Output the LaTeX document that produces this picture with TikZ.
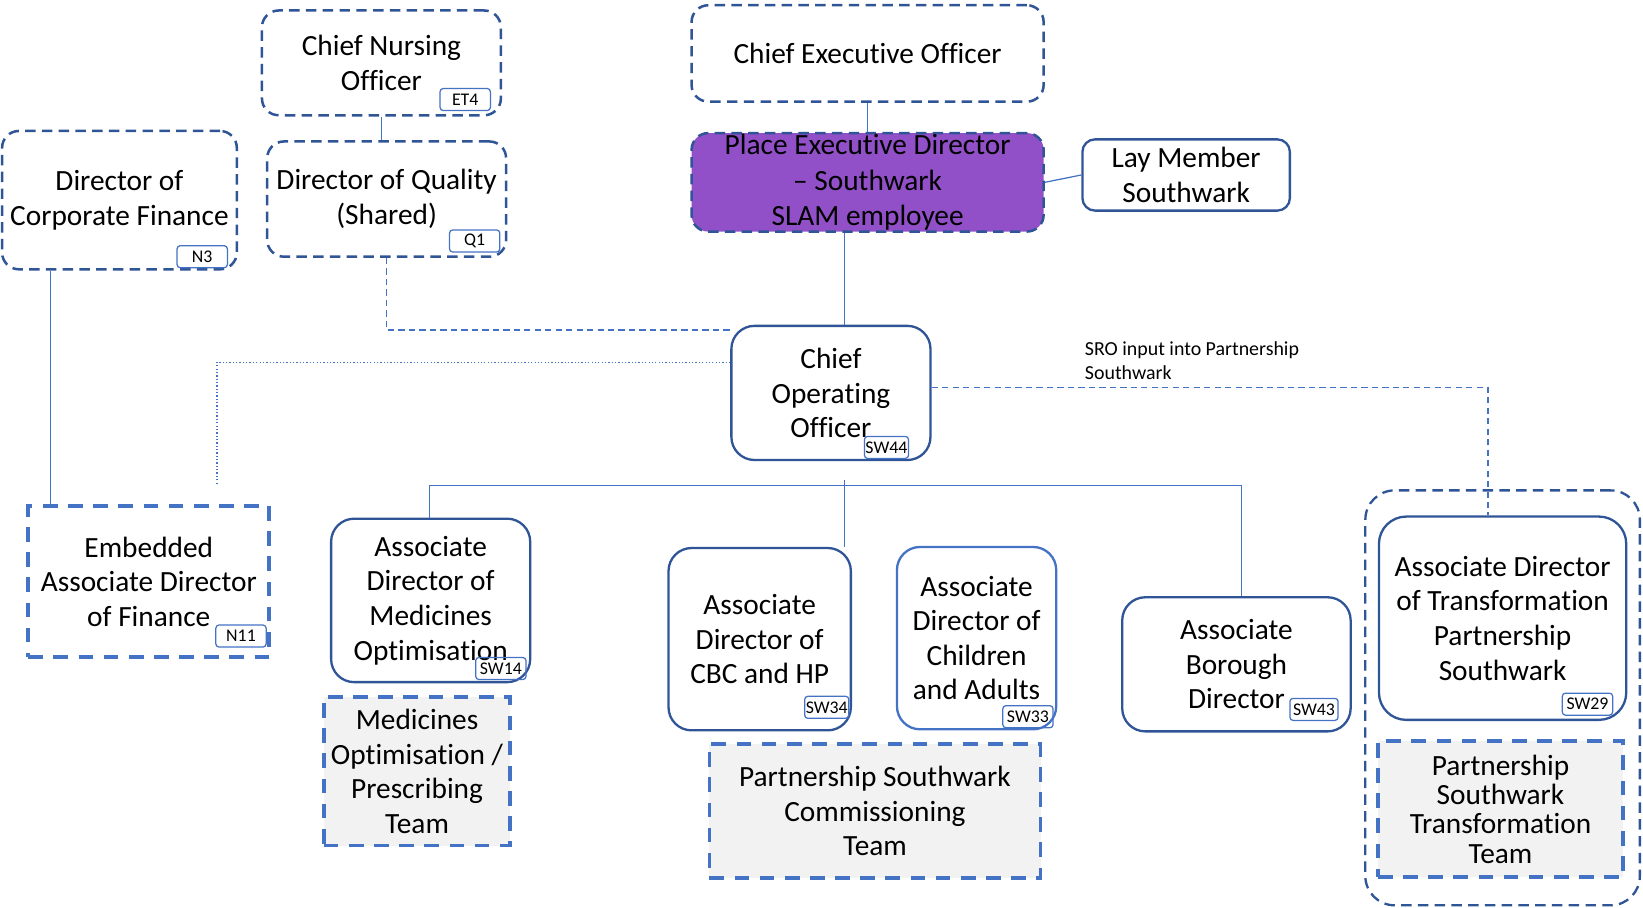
\documentclass[tikz,border=0pt]{standalone}
\usepackage{fontspec}
\setmainfont{Carlito}[Ligatures=NoCommon]
\usepackage{xcolor}
\definecolor{boxblue}{RGB}{47,85,151}
\definecolor{lineblue}{RGB}{68,114,196}
\definecolor{placepurple}{RGB}{145,80,200}
\definecolor{teamgray}{RGB}{242,242,242}

\begin{document}
\begin{tikzpicture}[x=0.5pt,y=-0.5pt,
    lbl/.style={align=center,font=\fontsize{14}{16.5}\selectfont,inner sep=0pt},
    topbox/.style={lbl,draw=boxblue,line width=1.2pt,dash pattern=on 5pt off 3pt,rounded corners=8pt},
    rolebox/.style={lbl,draw=boxblue,line width=1.1pt,rounded corners=11pt},
    teambox/.style={lbl,draw=lineblue,fill=teamgray,line width=1.8pt,dash pattern=on 7pt off 5pt},
    idtag/.style={draw=lineblue,line width=0.6pt,rounded corners=1.5pt,minimum width=24pt,minimum height=10.5pt,inner sep=0.5pt,font=\fontsize{8.5}{9}\selectfont},
    link/.style={draw=lineblue,line width=0.6pt}]
        \useasboundingbox (0,0) rectangle (1568,866);

        \node [topbox,minimum width=114pt,minimum height=50pt] (CNO) at (364,60) {Chief Nursing\\Officer};
        \node [topbox,minimum width=114pt,minimum height=55pt] (DQ) at (369,190) {Director of Quality\\(Shared)};
        \node [topbox,minimum width=112pt,minimum height=66pt] (DCF) at (114,191) {Director of\\Corporate Finance};
        \node [topbox,minimum width=168pt,minimum height=46pt] (CEO) at (828,51) {Chief Executive Officer};
        \node [topbox,fill=placepurple,font=\fontsize{14}{17}\selectfont,minimum width=168pt,minimum height=47pt] (PED) at (828,174) {Place Executive Director\\– Southwark\\SLAM employee};
        \node [rolebox,rounded corners=6pt,minimum width=99pt,minimum height=34pt] (Lay) at (1132,167) {Lay Member\\Southwark};
        \node [rolebox,minimum width=95pt,minimum height=64pt] (COO) at (793,375) {Chief\\Operating\\Officer};
        \node [font=\fontsize{9.5}{11.5}\selectfont,align=left,anchor=north west,inner sep=0pt] (SRO) at (1035,326) {SRO input into Partnership\\Southwark};

        \node [teambox,fill=none,minimum width=115pt,minimum height=72pt] (EMB) at (142,555) {Embedded\\Associate Director\\of Finance};
        \node [rolebox,minimum width=95pt,minimum height=78pt] (ADMO) at (411,573) {Associate\\Director of\\Medicines\\Optimisation};
        \node [teambox,minimum width=89pt,minimum height=71pt] (MOPT) at (398,736) {Medicines\\Optimisation /\\Prescribing\\Team};
        \node [rolebox,minimum width=87pt,minimum height=87pt] (ADCBC) at (725,610) {Associate\\Director of\\CBC and HP};
        \node [rolebox,draw=lineblue,minimum width=76pt,minimum height=87pt] (ADCA) at (932,609) {Associate\\Director of\\Children\\and Adults};
        \node [teambox,minimum width=158pt,minimum height=64pt] (PSCT) at (835,774) {Partnership Southwark\\Commissioning\\Team};
        \node [rolebox,minimum width=109pt,minimum height=64pt] (ABD) at (1180,634) {Associate\\Borough\\Director};

        \node [topbox,rounded corners=14pt,line width=1.1pt,minimum width=131pt,minimum height=198pt] (GRP) at (1434,666) {};
        \node [rolebox,rounded corners=13pt,minimum width=118pt,minimum height=97pt] (ADT) at (1434,590) {Associate Director\\of Transformation\\Partnership\\Southwark};
        \node [teambox,font=\fontsize{14}{14}\selectfont,minimum width=117pt,minimum height=65pt] (PSTT) at (1432,772) {Partnership\\Southwark\\Transformation\\Team};

        \node [idtag] (tCNO) at (444,95) {ET4};
        \node [idtag] (tDQ) at (453,230) {Q1};
        \node [idtag] (tDCF) at (193,245) {N3};
        \node [idtag,minimum width=21pt] (tCOO) at (846,427) {SW44};
        \node [idtag] (tEMB) at (230,607) {N11};
        \node [idtag] (tADMO) at (478,638) {SW14};
        \node [idtag,minimum width=21pt] (tADCBC) at (789,675) {SW34};
        \node [idtag] (tADCA) at (981,684) {SW33};
        \node [idtag,minimum width=23pt] (tABD) at (1254,677) {SW43};
        \node [idtag] (tADT) at (1515,672) {SW29};

        \coordinate (busL) at (410,463);
        \coordinate (busM) at (806,458);
        \coordinate (busR) at (1185,463);
        \coordinate (finE) at (207,462);

        \draw [link] (CNO.south) -- (CNO.south |- DQ.north);
        \draw [link] (CEO.south) -- (PED.north);
        \draw [link] (PED.east) -- (Lay.west);
        \draw [link] ([xshift=-11pt]PED.south) -- ([xshift=-11pt]PED.south |- COO.north);
        \draw [link] ([xshift=11.5pt]EMB.north west) -- ([xshift=11.5pt]EMB.north west |- DCF.south);
        \draw [link,dash pattern=on 3pt off 2pt] (DQ.south) |- (COO.148);
        \draw [link,densely dotted] (COO.163) -| (finE);
        \draw [link,dash pattern=on 3pt off 2pt] (COO.3) -| ([xshift=-7pt]ADT.north);
        \draw [link] (busL) -- (busR);
        \draw [link] (busL) -- (busL |- ADMO.north);
        \draw [link] (busM) -- (busM |- ADCBC.north);
        \draw [link] (busR) -- (busR |- ABD.north);
\end{tikzpicture}
\end{document}
